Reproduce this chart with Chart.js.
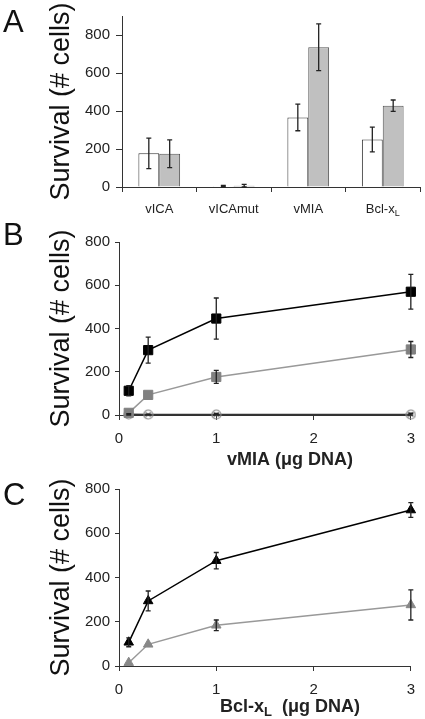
<!DOCTYPE html>
<html>
<head>
<meta charset="utf-8">
<script src="https://cdn.jsdelivr.net/npm/chart.js@4.4.1/dist/chart.umd.min.js"></script>
<style>
  body { margin: 0; background: #fff; width: 425px; height: 719px; position: relative; overflow: hidden; }
  .panel { position: absolute; left: 0; width: 425px; }
  .letter { position: absolute; left: 3px; font: 31px 'Liberation Sans', Arial, sans-serif; line-height: 31px; color: #111; }
</style>
</head>
<body>
<div class="panel" style="top:0;height:228px"><canvas id="chartA"></canvas></div>
<div class="panel" style="top:228px;height:244px"><canvas id="chartB"></canvas></div>
<div class="panel" style="top:472px;height:247px"><canvas id="chartC"></canvas></div>
<div class="letter" style="top:6px">A</div>
<div class="letter" style="top:219px">B</div>
<div class="letter" style="top:479px">C</div>

<script>
// Panel A: survival per construct (white / gray bars)
const barCategories = ['vICA', 'vICAmut', 'vMIA', 'Bcl-x_L'];
const barWhite = [177, 4, 366, 250];
const barWhiteErr = [80, 4, 70, 65];
const barGray = [175, 6, 736, 428];
const barGrayErr = [73, 8, 123, 30];

// Panels B and C: dose response
const doses = [0.1, 0.3, 1, 3];
const vmiaBlack = [112, 300, 446, 570];
const vmiaBlackErr = [24, 60, 95, 80];
const vmiaGray = [10, 93, 176, 303];
const vmiaGrayErr = [0, 0, 30, 37];
const vmiaOpen = [3, 2, 2, 2];
const vmiaOpenErr = [3, 2, 5, 6];
const bclBlack = [107, 294, 476, 705];
const bclBlackErr = [20, 45, 37, 33];
const bclGray = [15, 98, 184, 276];
const bclGrayErr = [0, 0, 24, 68];

const FONT = "'Liberation Sans', Arial, sans-serif";
const AXIS = '#333';
const TEXT = '#222';

// points as {x, y}
function pts(ys) {
  return doses.map((d, i) => ({ x: d, y: ys[i] }));
}

// open circle with a cross, used as a point style
function crossCircle(size, color) {
  const c = document.createElement('canvas');
  c.width = c.height = size;
  const g = c.getContext('2d');
  const m = size / 2, r = size / 2 - 1;
  g.strokeStyle = color;
  g.lineWidth = 1.2;
  g.beginPath();
  g.arc(m, m, r, 0, Math.PI * 2);
  g.stroke();
  const d = r * 0.6;
  g.beginPath();
  g.moveTo(m - d, m - d); g.lineTo(m + d, m + d);
  g.moveTo(m + d, m - d); g.lineTo(m - d, m + d);
  g.stroke();
  return c;
}

// draw "text_S" with S as subscript, centred on cx
function drawRich(ctx, text, cx, y, size, bold) {
  const parts = text.split('_');
  const main = (bold ? 'bold ' : '') + size + 'px ' + FONT;
  const sub = (bold ? 'bold ' : '') + Math.round(size * 0.7) + 'px ' + FONT;
  const pieces = [];
  parts.forEach((p, i) => {
    if (i === 0) { pieces.push({ t: p, f: main, dy: 0 }); return; }
    pieces.push({ t: p[0], f: sub, dy: size * 0.22 });
    if (p.length > 1) pieces.push({ t: p.slice(1), f: main, dy: 0 });
  });
  let total = 0;
  pieces.forEach(pc => { ctx.font = pc.f; pc.w = ctx.measureText(pc.t).width; total += pc.w; });
  let x = cx - total / 2;
  ctx.textAlign = 'left';
  ctx.textBaseline = 'alphabetic';
  pieces.forEach(pc => { ctx.font = pc.f; ctx.fillText(pc.t, x, y + pc.dy); x += pc.w; });
}

// error bars drawn from dataset.errors
const errorBars = {
  id: 'errorBars',
  afterDatasetsDraw(chart) {
    const ctx = chart.ctx;
    const y = chart.scales.y;
    chart.data.datasets.forEach((ds, i) => {
      if (!ds.errors) return;
      const meta = chart.getDatasetMeta(i);
      ctx.save();
      ctx.strokeStyle = '#222';
      ctx.lineWidth = 1.3;
      meta.data.forEach((el, j) => {
        const e = ds.errors[j];
        if (!e) return;
        const v = meta.controller.getParsed(j).y;
        const top = y.getPixelForValue(v + e);
        const bot = y.getPixelForValue(Math.max(v - e, 0));
        ctx.beginPath();
        ctx.moveTo(el.x, top); ctx.lineTo(el.x, bot);
        ctx.moveTo(el.x - 2.5, top); ctx.lineTo(el.x + 2.5, top);
        ctx.moveTo(el.x - 2.5, bot); ctx.lineTo(el.x + 2.5, bot);
        ctx.stroke();
      });
      ctx.restore();
    });
  }
};

// category labels with subscripts (panel A) and x titles (B, C)
const richText = {
  id: 'richText',
  afterDraw(chart, args, opts) {
    const ctx = chart.ctx;
    ctx.save();
    ctx.fillStyle = TEXT;
    if (opts.categoryLabels) {
      const xs = chart.scales.x;
      chart.data.labels.forEach((lab, i) => {
        drawRich(ctx, lab, xs.getPixelForTick(i), xs.top + 26, 13, false);
      });
    }
    if (opts.xTitle) {
      const a = chart.chartArea;
      drawRich(ctx, opts.xTitle, (a.left + a.right) / 2 + 25, a.bottom + opts.titleGap, 18, true);
    }
    ctx.restore();
  }
};

function yAxis(width, max, tickLen, pad) {
  return {
    min: 0,
    max: max,
    afterFit: s => { s.width = width; },
    afterBuildTicks: s => { s.ticks = s.ticks.filter(t => t.value % 200 === 0); },
    border: { display: true, color: AXIS, width: 1 },
    grid: { display: true, drawOnChartArea: false, drawTicks: true, tickLength: tickLen, color: AXIS },
    ticks: { stepSize: 200, padding: pad, color: TEXT, font: { family: FONT, size: 15 } },
    title: {
      display: true,
      text: 'Survival (# cells)',
      color: '#111',
      font: { family: FONT, size: 27 },
      padding: { top: 45, bottom: 0 }
    }
  };
}

function doseAxis(height) {
  return {
    type: 'linear',
    min: 0,
    max: 3,
    afterFit: s => { s.height = height; },
    border: { display: true, color: AXIS, width: 1 },
    grid: { display: true, drawOnChartArea: false, drawTicks: true, tickLength: 5, color: AXIS },
    ticks: { stepSize: 1, padding: 10, color: TEXT, font: { family: FONT, size: 15 } }
  };
}

function lineSet(ys, errs, color, style, radius, width, lineColor) {
  return {
    data: pts(ys),
    errors: errs,
    borderColor: lineColor || color,
    backgroundColor: color,
    pointBackgroundColor: color,
    pointBorderColor: color,
    borderWidth: width,
    pointStyle: style,
    pointRadius: radius,
    pointBorderWidth: 1,
    clip: false,
    tension: 0
  };
}

// Panel A
new Chart(document.getElementById('chartA'), {
  type: 'bar',
  data: {
    labels: barCategories,
    datasets: [
      {
        data: barWhite, errors: barWhiteErr,
        backgroundColor: '#ffffff', borderColor: '#333', borderWidth: 1,
        barPercentage: 1, categoryPercentage: 0.56
      },
      {
        data: barGray, errors: barGrayErr,
        backgroundColor: '#c0c0c0', borderColor: '#555', borderWidth: 1,
        barPercentage: 1, categoryPercentage: 0.56
      }
    ]
  },
  options: {
    responsive: true,
    maintainAspectRatio: false,
    animation: false,
    layout: { padding: { top: 16, right: 5, left: 0, bottom: 0 } },
    plugins: {
      legend: { display: false },
      tooltip: { enabled: false },
      richText: { categoryLabels: true }
    },
    scales: {
      x: {
        afterFit: s => { s.height = 41; },
        border: { display: true, color: AXIS, width: 1 },
        grid: { display: true, offset: true, drawOnChartArea: false, drawTicks: true, tickLength: 5, color: AXIS },
        ticks: { color: 'rgba(0,0,0,0)', font: { family: FONT, size: 13 } }
      },
      y: yAxis(122, 900, 6, 6)
    }
  },
  plugins: [errorBars, richText]
});

// Panel B
new Chart(document.getElementById('chartB'), {
  type: 'line',
  data: {
    datasets: [
      lineSet(vmiaBlack, vmiaBlackErr, '#000', 'rect', 6.5, 1.5),
      lineSet(vmiaGray, vmiaGrayErr, '#808080', 'rect', 6.5, 1.5, '#999'),
      lineSet(vmiaOpen, vmiaOpenErr, '#333', crossCircle(11, '#888'), 5, 1.5)
    ]
  },
  options: {
    responsive: true,
    maintainAspectRatio: false,
    animation: false,
    layout: { padding: { top: 9, right: 7, left: 0, bottom: 0 } },
    plugins: {
      legend: { display: false },
      tooltip: { enabled: false },
      richText: { xTitle: 'vMIA (\u03bcg DNA)', titleGap: 50 }
    },
    scales: {
      x: doseAxis(57),
      y: yAxis(119, 800, 4, 5)
    }
  },
  plugins: [errorBars, richText]
});

// Panel C
new Chart(document.getElementById('chartC'), {
  type: 'line',
  data: {
    datasets: [
      lineSet(bclBlack, bclBlackErr, '#000', 'triangle', 5.5, 1.5),
      lineSet(bclGray, bclGrayErr, '#888', 'triangle', 5.5, 1.5, '#999')
    ]
  },
  options: {
    responsive: true,
    maintainAspectRatio: false,
    animation: false,
    layout: { padding: { top: 17, right: 7, left: 0, bottom: 0 } },
    plugins: {
      legend: { display: false },
      tooltip: { enabled: false },
      richText: { xTitle: 'Bcl-x_L  (\u03bcg DNA)', titleGap: 46 }
    },
    scales: {
      x: doseAxis(53),
      y: yAxis(119, 800, 4, 5)
    }
  },
  plugins: [errorBars, richText]
});
</script>
</body>
</html>
